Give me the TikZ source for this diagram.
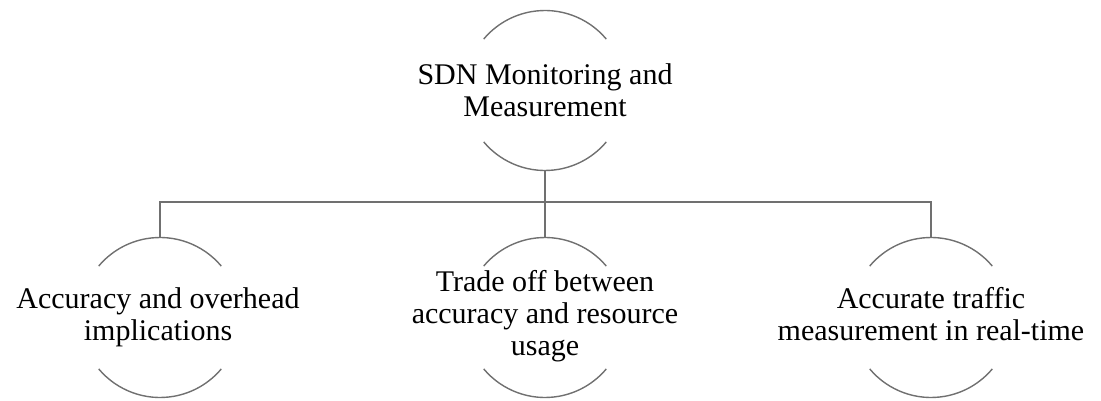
\documentclass[tikz,border=0pt]{standalone}
\usepackage{fontspec}
\setmainfont{Liberation Serif}
\definecolor{linegray}{RGB}{112,112,112}
\begin{document}
\begin{tikzpicture}[x=1pt,y=-1pt,
  ring/.style={circle, draw=none, minimum size=160pt, inner sep=0pt, outer sep=0pt},
  label/.style={align=center, inner sep=0pt, font=\fontsize{30}{32}\selectfont},
  arcline/.style={draw=linegray, line width=1.4pt},
  conn/.style={draw=linegray, line width=1.4pt}]
\useasboundingbox (0,0) rectangle (1101,401);
% circles (only top and bottom arcs are shown)
\node[ring] (top) at (545,90.5) {};
\node[ring] (left) at (160,317.5) {};
\node[ring] (mid) at (545,317.5) {};
\node[ring] (right) at (931,317.5) {};
\foreach \n in {top,left,mid,right}{
  \draw[arcline] (\n.40) arc[start angle=40,end angle=140,radius=80pt];
  \draw[arcline] (\n.220) arc[start angle=220,end angle=320,radius=80pt];
}
% texts
\node[label] (ttop) at (545,90) {SDN Monitoring and\\Measurement};
\node[label] (tleft) at (158,317) {Accuracy and overhead\\implications};
\node[label] (tmid) at (545,316) {Trade off between\\accuracy and resource\\usage};
\node[label] (tright) at (931,314) {Accurate traffic\\measurement in real-time};
% connectors
\coordinate (bus) at (545,202);
\draw[conn] (top.south) -- (mid.north);
\draw[conn] (left.north) |- (bus) -| (right.north);
\end{tikzpicture}
\end{document}
